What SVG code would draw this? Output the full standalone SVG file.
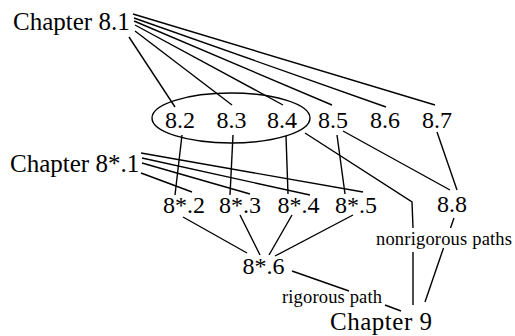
<svg xmlns="http://www.w3.org/2000/svg" width="515" height="336" viewBox="0 0 515 336">
<style>
.t{font-family:"Liberation Serif","Times New Roman",serif;fill:#000}
.big{font-size:25px}
.n{font-size:24px;text-anchor:middle}
.lab{font-size:18.5px}
.c line,.c polyline{stroke:#000;stroke-width:1.4;fill:none}
</style>
<rect width="515" height="336" fill="#fff"/>
<g id="connectors" class="c">
<line x1="133" y1="14" x2="435" y2="105"/>
<line x1="134" y1="18" x2="386" y2="107"/>
<line x1="134" y1="21" x2="332" y2="105"/>
<line x1="135" y1="25" x2="283" y2="105"/>
<line x1="135" y1="31" x2="232" y2="105"/>
<line x1="129" y1="37" x2="175" y2="107"/>
<line x1="141" y1="153" x2="363" y2="192"/>
<line x1="142" y1="158" x2="310" y2="195"/>
<line x1="142" y1="163" x2="250" y2="194"/>
<line x1="141" y1="173" x2="192" y2="192"/>
<line x1="182" y1="135" x2="175" y2="195"/>
<line x1="233" y1="135" x2="230" y2="195"/>
<line x1="286" y1="136" x2="288" y2="194"/>
<line x1="337" y1="135" x2="345" y2="194"/>
<line x1="343" y1="131" x2="450" y2="190"/>
<line x1="437" y1="132" x2="457" y2="190"/>
<polyline points="305,133 412,202 413,228"/>
<line x1="413" y1="252" x2="413" y2="305"/>
<line x1="454" y1="218" x2="450.5" y2="228"/>
<line x1="443.5" y1="248" x2="425" y2="302"/>
<line x1="183" y1="217" x2="247" y2="253"/>
<line x1="240" y1="215" x2="260" y2="255"/>
<line x1="292" y1="215" x2="269" y2="255"/>
<line x1="353" y1="215" x2="275" y2="256"/>
<line x1="292" y1="271" x2="349" y2="291"/>
<line x1="385" y1="305" x2="401" y2="311"/>
</g>
<g id="ch81"><text class="t big" x="13" y="29.5">Chapter 8.1</text></g>
<g id="group"><ellipse cx="231" cy="118" rx="79" ry="25" fill="none" stroke="#000" stroke-width="1.4"/></g>
<g id="n82"><text class="t n" x="180" y="128">8.2</text></g>
<g id="n83"><text class="t n" x="231.5" y="128">8.3</text></g>
<g id="n84"><text class="t n" x="282" y="128">8.4</text></g>
<g id="n85"><text class="t n" x="333" y="128">8.5</text></g>
<g id="n86"><text class="t n" x="385" y="128">8.6</text></g>
<g id="n87"><text class="t n" x="437" y="128">8.7</text></g>
<g id="ch8s1"><text class="t big" x="10" y="172">Chapter 8*.1</text></g>
<g id="n8s2"><text class="t n" x="184" y="213">8*.2</text></g>
<g id="n8s3"><text class="t n" x="240" y="213">8*.3</text></g>
<g id="n8s4"><text class="t n" x="298.5" y="213">8*.4</text></g>
<g id="n8s5"><text class="t n" x="356" y="213">8*.5</text></g>
<g id="n88"><text class="t n" x="452" y="212">8.8</text></g>
<g id="n8s6"><text class="t n" x="263.5" y="274">8*.6</text></g>
<g id="ch9"><text class="t big" x="330" y="330" textLength="102">Chapter 9</text></g>
<g id="lab-nonrig"><text class="t lab" x="376" y="245" textLength="136">nonrigorous paths</text></g>
<g id="lab-rig"><text class="t lab" x="282" y="303" textLength="100">rigorous path</text></g>
</svg>
